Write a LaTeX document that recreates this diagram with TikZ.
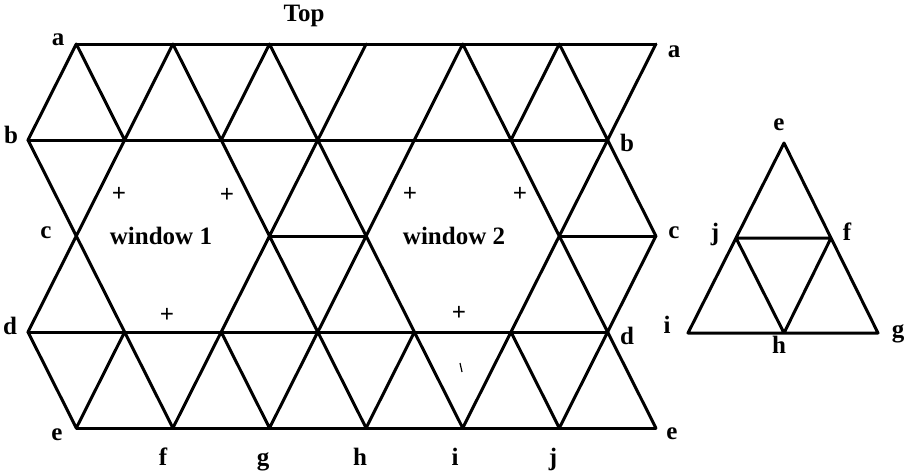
\documentclass[tikz,border=0pt]{standalone}
\usepackage{fontspec}
\setmainfont{Liberation Serif}
\usepackage{tikz}
\tikzset{net/.style={line width=1.5pt, line join=round, line cap=round},
  lbl/.style={anchor=base, inner sep=0pt, font=\fontsize{12.5}{15}\selectfont\bfseries},
  plusmark/.style={inner sep=0pt, font=\fontsize{12.5}{15}\selectfont\bfseries}}

\begin{document}
\begin{tikzpicture}[x=0.5pt, y=-0.5pt]
\useasboundingbox (0,0) rectangle (909,472);
% grid of the strip
\foreach \k in {1,3,...,13} {\coordinate (a\k) at ({28+48.3*\k},44); \coordinate (e\k) at ({28+48.3*\k},428);}
\foreach \k in {0,2,...,12} {\coordinate (b\k) at ({28+48.3*\k},140); \coordinate (d\k) at ({28+48.3*\k},332);}
\foreach \k in {1,5,7,11,13} \coordinate (c\k) at ({28+48.3*\k},236);
\draw[net] (a1) -- (a13) (b0) -- (b12) (d0) -- (d12) (e1) -- (e13) (c5) -- (c7) (c11) -- (c13);
\draw[net] (b0) -- (a1) -- (b2) -- (a3) -- (b4) -- (a5) -- (b6) -- (a7);
\draw[net] (b8) -- (a9) -- (b10) -- (a11) -- (b12) -- (a13);
\draw[net] (b0) -- (c1) -- (b2) (b4) -- (c5) -- (b6) -- (c7) -- (b8) (b10) -- (c11) -- (b12) -- (c13);
\draw[net] (d0) -- (c1) -- (d2) (d4) -- (c5) -- (d6) -- (c7) -- (d8) (d10) -- (c11) -- (d12) -- (c13);
\draw[net] (d0) -- (e1) -- (d2) -- (e3) -- (d4) -- (e5) -- (d6) -- (e7) -- (d8) -- (e9) -- (d10) -- (e11) -- (d12) -- (e13);
\coordinate (tk1) at (460,363); \coordinate (tk2) at (462,372);
\draw[line width=0.6pt] (tk1) -- (tk2);
% letters of the strip
\node[lbl] (top) at (304,21) {Top};
\node[lbl] (la) at (58,45) {a};
\node[lbl] (lb) at (11,143) {b};
\node[lbl] (lc) at (46,238) {c};
\node[lbl] (ld) at (10,334) {d};
\node[lbl] (le) at (57,440) {e};
\node[lbl] (ra) at (674,57) {a};
\node[lbl] (rb) at (627,151) {b};
\node[lbl] (rc) at (674,238) {c};
\node[lbl] (rd) at (627,344) {d};
\node[lbl] (re) at (672,439) {e};
\node[lbl] (bf) at (163,465) {f};
\node[lbl] (bg) at (263,465) {g};
\node[lbl] (bh) at (360,465) {h};
\node[lbl] (bi) at (455,465) {i};
\node[lbl] (bj) at (553,465) {j};
\node[lbl] (win1) at (161,244) {window 1};
\node[lbl] (win2) at (454,244) {window 2};
\node[plusmark] (p1) at (119,194) {+};
\node[plusmark] (p2) at (227,195) {+};
\node[plusmark] (p3) at (167,315) {+};
\node[plusmark] (p4) at (410,194) {+};
\node[plusmark] (p5) at (520,194) {+};
\node[plusmark] (p6) at (459,313) {+};
% folded triangle
\coordinate (te) at (784,143); \coordinate (tj) at (736,238); \coordinate (tf) at (831,238);
\coordinate (ti) at (688,333); \coordinate (th) at (784,333); \coordinate (tg) at (878,333);
\draw[net] (te) -- (ti) -- (tg) -- cycle (tj) -- (tf) -- (th) -- cycle;
\node[lbl] (ne) at (779,130) {e};
\node[lbl] (nj) at (715,240) {j};
\node[lbl] (nf) at (847,240) {f};
\node[lbl] (ni) at (667,333) {i};
\node[lbl] (nh) at (779,353) {h};
\node[lbl] (ng) at (898,337) {g};
\end{tikzpicture}
\end{document}
